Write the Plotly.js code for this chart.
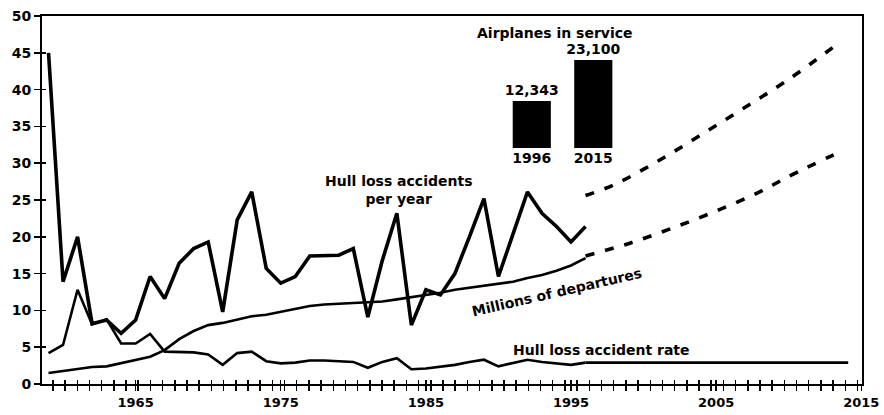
<!DOCTYPE html>
<html>
<head>
<meta charset="utf-8">
<script src="https://cdn.plot.ly/plotly-3.0.1.min.js"></script>
<style>html,body{margin:0;padding:0;background:#fff;}#chart{width:884px;height:415px;}</style>
</head>
<body>
<div id="chart"></div>
<script>
const years = [1959,1960,1961,1962,1963,1964,1965,1966,1967,1968,1969,1970,1971,1972,1973,1974,1975,1976,1977,1978,1979,1980,1981,1982,1983,1984,1985,1986,1987,1988,1989,1990,1991,1992,1993,1994,1995,1996];
const accidentsPerYear = [45,13.9,20.0,8.2,8.7,6.9,8.7,14.6,11.6,16.4,18.4,19.3,9.8,22.3,26.1,15.7,13.7,14.6,17.4,17.5,17.5,18.4,9.1,16.8,23.2,8.0,12.8,12.1,15.0,20.0,25.2,14.6,20.5,26.1,23.2,21.4,19.3,21.4];
const departures = [1.5,1.8,2.1,2.3,2.4,2.8,3.2,3.7,4.6,6.1,7.2,8.0,8.3,8.7,9.2,9.4,9.8,10.2,10.6,10.8,10.9,11.0,11.1,11.2,11.5,11.8,12.0,12.4,12.8,13.1,13.4,13.7,13.9,14.4,14.8,15.4,16.1,17.1];
const accidentRate = [4.2,5.3,12.8,8.1,8.8,5.5,5.5,6.8,4.4,4.4,4.3,4.0,2.6,4.2,4.4,3.1,2.8,2.9,3.2,3.2,3.1,3.0,2.2,3.0,3.5,2.0,2.1,2.3,2.6,3.0,3.3,2.4,2.9,3.3,3.0,2.8,2.6,2.9];

const accProjYears = [1996,1998,2001,2004,2007,2010,2013.3];
const accProj = [25.6,27.1,30.3,33.9,37.6,41.4,46.1];
const depProjYears = [1996,1999,2002,2005,2008,2010,2013.8];
const depProj = [17.4,19.1,21.2,23.5,26.1,28.2,31.8];
const rateProjYears = [1996,2014.1];
const rateProj = [2.9,2.9];

const fleetYears = ['1996','2015'];
const fleetSize = [12343,23100];

const yTicks = [0,5,10,15,20,25,30,35,40,45,50];
const xTicks = [1965,1975,1985,1995,2005,2015];
const xRange = [1958.55,2015.05];
const yRange = [0,50];

const F = {family:'DejaVu Sans, sans-serif', size:14, color:'#000', weight:700};
const solid = (w)=>({color:'#000', width:w});

const traces = [
  {x:years, y:departures, type:'scatter', mode:'lines', line:solid(2.6), hoverinfo:'skip'},
  {x:years, y:accidentRate, type:'scatter', mode:'lines', line:solid(2.6), hoverinfo:'skip'},
  {x:years, y:accidentsPerYear, type:'scatter', mode:'lines', line:solid(3.6), hoverinfo:'skip'},
  {x:accProjYears, y:accProj, type:'scatter', mode:'lines', line:{color:'#000', width:3.6, dash:'9px,11px', shape:'spline'}, hoverinfo:'skip'},
  {x:depProjYears, y:depProj, type:'scatter', mode:'lines', line:{color:'#000', width:3.6, dash:'9px,11px', shape:'spline'}, hoverinfo:'skip'},
  {x:rateProjYears, y:rateProj, type:'scatter', mode:'lines', line:solid(2.6), hoverinfo:'skip'},
  {x:fleetYears, y:fleetSize, type:'bar', xaxis:'x2', yaxis:'y2', marker:{color:'#000'},
   texttemplate:'%{y:,}', textposition:'outside', constraintext:'none', cliponaxis:false, textfont:F, hoverinfo:'skip'},
  {x:[], y:[], type:'scatter', mode:'lines', xaxis:'x3', yaxis:'y3', hoverinfo:'skip'}
];

const tickStyle = {tickwidth:1.5, tickcolor:'#000'};

const layout = {
  width:884, height:415,
  margin:{l:42, r:22, t:16, b:31, pad:0},
  paper_bgcolor:'#fff', plot_bgcolor:'rgba(0,0,0,0)',
  showlegend:false,
  bargap:0.38,
  font:F,
  xaxis:{range:xRange, tickvals:xTicks, ticktext:xTicks.map(String), ticks:'outside', ticklen:5, ...tickStyle,
         showline:true, linecolor:'#000', linewidth:2, mirror:true, showgrid:false, zeroline:false, tickfont:{...F, size:13},
         minor:{dtick:0.84, tick0:1959.3, ticks:'outside', ticklen:5, ...tickStyle, showgrid:false}},
  yaxis:{range:yRange, tickvals:yTicks, ticks:'outside', ticklen:6, ...tickStyle,
         showline:true, linecolor:'#000', linewidth:2, mirror:true, showgrid:false, zeroline:false, tickfont:F},
  xaxis3:{overlaying:'x', anchor:'y3', side:'bottom', range:xRange, tickvals:xTicks, ticks:'inside', ticklen:4, ...tickStyle,
          showticklabels:false, showline:false, showgrid:false, zeroline:false,
          minor:{dtick:0.84, tick0:1959.3, ticks:'inside', ticklen:4, ...tickStyle, showgrid:false}},
  yaxis3:{overlaying:'y', anchor:'x3', side:'left', range:yRange, tickvals:yTicks, ticks:'inside', ticklen:4, ...tickStyle,
          showticklabels:false, showline:false, showgrid:false, zeroline:false},
  xaxis2:{domain:[0.5598,0.7098], anchor:'y2', type:'category', showline:false, ticks:'', showgrid:false, zeroline:false, tickfont:F},
  yaxis2:{domain:[0.6413,0.8804], anchor:'x2', range:[0,23100], visible:false},
  annotations:[
    {x:1983.08, y:26.4, xref:'x', yref:'y', text:'Hull loss accidents<br>per year', showarrow:false, font:F},
    {x:1994.04, y:12.5, xref:'x', yref:'y', text:'Millions of departures', showarrow:false, textangle:-13, font:F},
    {x:1997.1, y:4.6, xref:'x', yref:'y', text:'Hull loss accident rate', showarrow:false, font:F},
    {x:1993.9, y:47.7, xref:'x', yref:'y', text:'Airplanes in service', showarrow:false, font:F}
  ]
};

Plotly.newPlot('chart', traces, layout, {displayModeBar:false, staticPlot:true});
</script>
</body>
</html>
